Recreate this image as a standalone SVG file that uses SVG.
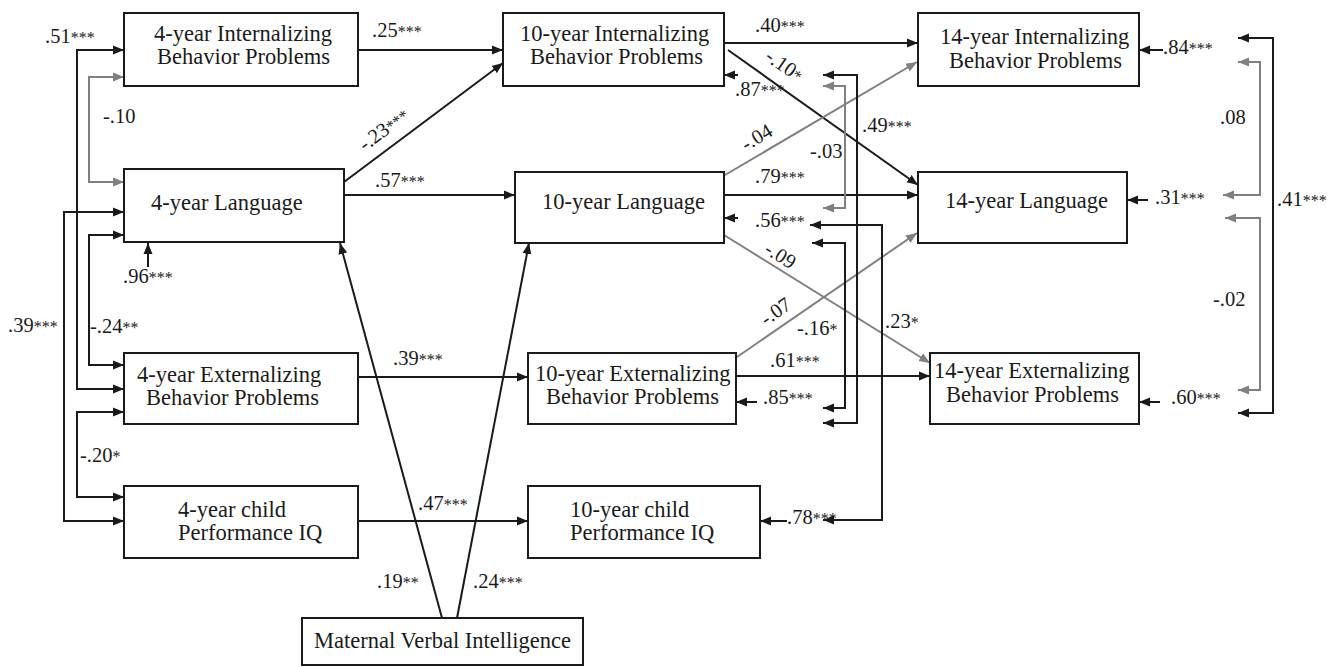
<svg xmlns="http://www.w3.org/2000/svg" width="1336" height="667" viewBox="0 0 1336 667">
<style>
.box{fill:#fff;stroke:#1a1a1a;stroke-width:2}
.nt{font-family:"Liberation Serif","DejaVu Serif",serif;font-size:22.5px;fill:#1a1a1a}
.lb{font-family:"Liberation Serif","DejaVu Serif",serif;font-size:20.5px;fill:#1a1a1a}
.st{font-size:16px}
.k{fill:none;stroke:#1a1a1a;stroke-width:2}
.g{fill:none;stroke:#808080;stroke-width:2}
.ka{marker-end:url(#ak)}
.ga{marker-end:url(#ag)}
.kd{marker-start:url(#aks);marker-end:url(#ak)}
.gd{marker-start:url(#ags);marker-end:url(#ag)}
</style>
<defs>
<marker id="ak" markerUnits="userSpaceOnUse" markerWidth="12" markerHeight="10" refX="11" refY="5" orient="auto"><path d="M0,0.5 L11,5 L0,9.5 z" fill="#1a1a1a"/></marker>
<marker id="aks" markerUnits="userSpaceOnUse" markerWidth="12" markerHeight="10" refX="11" refY="5" orient="auto-start-reverse"><path d="M0,0.5 L11,5 L0,9.5 z" fill="#1a1a1a"/></marker>
<marker id="ag" markerUnits="userSpaceOnUse" markerWidth="12" markerHeight="10" refX="11" refY="5" orient="auto"><path d="M0,0.5 L11,5 L0,9.5 z" fill="#808080"/></marker>
<marker id="ags" markerUnits="userSpaceOnUse" markerWidth="12" markerHeight="10" refX="11" refY="5" orient="auto-start-reverse"><path d="M0,0.5 L11,5 L0,9.5 z" fill="#808080"/></marker>
</defs>
<rect width="1336" height="667" fill="#fff"/>

<g id="connectors">
<path class="k ka" d="M358,50 H503"/>
<path class="k ka" d="M344,182 L503,63"/>
<path class="k ka" d="M344,195 H515"/>
<path class="k ka" d="M358,377 H528"/>
<path class="k ka" d="M358,521 H528"/>
<path class="k ka" d="M442,618 L340,243"/>
<path class="k ka" d="M457,618 L529,243"/>
<path class="k ka" d="M724,43 H918"/>
<path class="k ka" d="M728,50 L918,185"/>
<path class="k ka" d="M724,195 H918"/>
<path class="k ka" d="M736,376 H930"/>
<path class="g ga" d="M725,175 L917,62"/>
<path class="g ga" d="M724,235 L930,363"/>
<path class="g ga" d="M737,357 L917,233"/>
<path class="k ka" d="M148,267 V243"/>
<path class="k ka" d="M738,75 H724"/>
<path class="k ka" d="M738,218 H724"/>
<path class="k ka" d="M757,402 H736"/>
<path class="k ka" d="M787,521 H760"/>
<path class="k ka" d="M1163,50 H1139"/>
<path class="k ka" d="M1148,200 H1127"/>
<path class="k ka" d="M1160,402 H1139"/>
<path class="k kd" d="M124,50 H77 V389 H124"/>
<path class="g gd" d="M124,77 H89 V182 H124"/>
<path class="k kd" d="M124,212 H64 V521 H124"/>
<path class="k kd" d="M124,235 H89 V365 H124"/>
<path class="k kd" d="M124,412 H77 V497 H124"/>
<path class="k kd" d="M823,75 H857 V423 H823"/>
<path class="g gd" d="M823,86 H845 V208 H823"/>
<path class="k kd" d="M810,225 H882 V520 H823"/>
<path class="k kd" d="M812,243 H845 V408 H823"/>
<path class="g gd" d="M1238,62 H1260 V195 H1223"/>
<path class="g gd" d="M1225,218 H1260 V390 H1238"/>
<path class="k kd" d="M1238,38 H1273 V413 H1238"/>
</g>

<g id="labels">
<text class="lb" x="372" y="37">.25<tspan class="st">***</tspan></text>
<text class="lb" x="375" y="187">.57<tspan class="st">***</tspan></text>
<text class="lb" x="45" y="43">.51<tspan class="st">***</tspan></text>
<text class="lb" x="103" y="123">-.10</text>
<text class="lb" x="123" y="283">.96<tspan class="st">***</tspan></text>
<text class="lb" x="8" y="332">.39<tspan class="st">***</tspan></text>
<text class="lb" x="90" y="333">-.24<tspan class="st">**</tspan></text>
<text class="lb" x="393" y="365">.39<tspan class="st">***</tspan></text>
<text class="lb" x="80" y="462">-.20<tspan class="st">*</tspan></text>
<text class="lb" x="418" y="510">.47<tspan class="st">***</tspan></text>
<text class="lb" x="377" y="588">.19<tspan class="st">**</tspan></text>
<text class="lb" x="473" y="588">.24<tspan class="st">***</tspan></text>
<text class="lb" x="755" y="32">.40<tspan class="st">***</tspan></text>
<text class="lb" x="735" y="96">.87<tspan class="st">***</tspan></text>
<text class="lb" x="862" y="132">.49<tspan class="st">***</tspan></text>
<text class="lb" x="810" y="158">-.03</text>
<text class="lb" x="755" y="183">.79<tspan class="st">***</tspan></text>
<text class="lb" x="755" y="227">.56<tspan class="st">***</tspan></text>
<text class="lb" x="797" y="335">-.16<tspan class="st">*</tspan></text>
<text class="lb" x="885" y="328">.23<tspan class="st">*</tspan></text>
<text class="lb" x="770" y="367">.61<tspan class="st">***</tspan></text>
<text class="lb" x="763" y="404">.85<tspan class="st">***</tspan></text>
<text class="lb" x="787" y="524">.78<tspan class="st">***</tspan></text>
<text class="lb" x="1163" y="54">.84<tspan class="st">***</tspan></text>
<text class="lb" x="1155" y="204">.31<tspan class="st">***</tspan></text>
<text class="lb" x="1171" y="404">.60<tspan class="st">***</tspan></text>
<text class="lb" x="1220" y="124">.08</text>
<text class="lb" x="1213" y="306">-.02</text>
<text class="lb" x="1277" y="206">.41<tspan class="st">***</tspan></text>
<text class="lb" text-anchor="middle" transform="translate(384,130) rotate(-37)" y="6">-.23<tspan class="st">***</tspan></text>
<text class="lb" text-anchor="middle" transform="translate(784,66) rotate(35)" y="6">-.10<tspan class="st">*</tspan></text>
<text class="lb" text-anchor="middle" transform="translate(757,138) rotate(-31)" y="6">-.04</text>
<text class="lb" text-anchor="middle" transform="translate(780,256) rotate(32)" y="6">-.09</text>
<text class="lb" text-anchor="middle" transform="translate(776,312) rotate(-35)" y="6">-.07</text>
</g>

<g id="n4int"><rect class="box" x="124" y="13" width="234" height="73"/><text class="nt" x="154" y="41">4-year Internalizing</text><text class="nt" x="157" y="64">Behavior Problems</text></g>
<g id="n4lang"><rect class="box" x="124" y="169" width="220" height="73"/><text class="nt" x="151" y="210">4-year Language</text></g>
<g id="n4ext"><rect class="box" x="124" y="353" width="234" height="71"/><text class="nt" x="137" y="382">4-year Externalizing</text><text class="nt" x="146" y="405">Behavior Problems</text></g>
<g id="n4piq"><rect class="box" x="124" y="486" width="234" height="72"/><text class="nt" x="178" y="517">4-year child</text><text class="nt" x="178" y="540">Performance IQ</text></g>
<g id="nmat"><rect class="box" x="302" y="618" width="281" height="47"/><text class="nt" x="314" y="648">Maternal Verbal Intelligence</text></g>
<g id="n10int"><rect class="box" x="503" y="13" width="221" height="73"/><text class="nt" x="520" y="41">10-year Internalizing</text><text class="nt" x="530" y="64">Behavior Problems</text></g>
<g id="n10lang"><rect class="box" x="515" y="172" width="209" height="71"/><text class="nt" x="542" y="209">10-year Language</text></g>
<g id="n10ext"><rect class="box" x="528" y="353" width="208" height="71"/><text class="nt" x="535" y="381">10-year Externalizing</text><text class="nt" x="546" y="404">Behavior Problems</text></g>
<g id="n10piq"><rect class="box" x="528" y="486" width="232" height="72"/><text class="nt" x="570" y="517">10-year child</text><text class="nt" x="570" y="540">Performance IQ</text></g>
<g id="n14int"><rect class="box" x="918" y="13" width="221" height="73"/><text class="nt" x="940" y="44">14-year Internalizing</text><text class="nt" x="949" y="68">Behavior Problems</text></g>
<g id="n14lang"><rect class="box" x="918" y="172" width="209" height="71"/><text class="nt" x="945" y="208">14-year Language</text></g>
<g id="n14ext"><rect class="box" x="930" y="353" width="209" height="71"/><text class="nt" x="934" y="378">14-year Externalizing</text><text class="nt" x="946" y="402">Behavior Problems</text></g>
</svg>
